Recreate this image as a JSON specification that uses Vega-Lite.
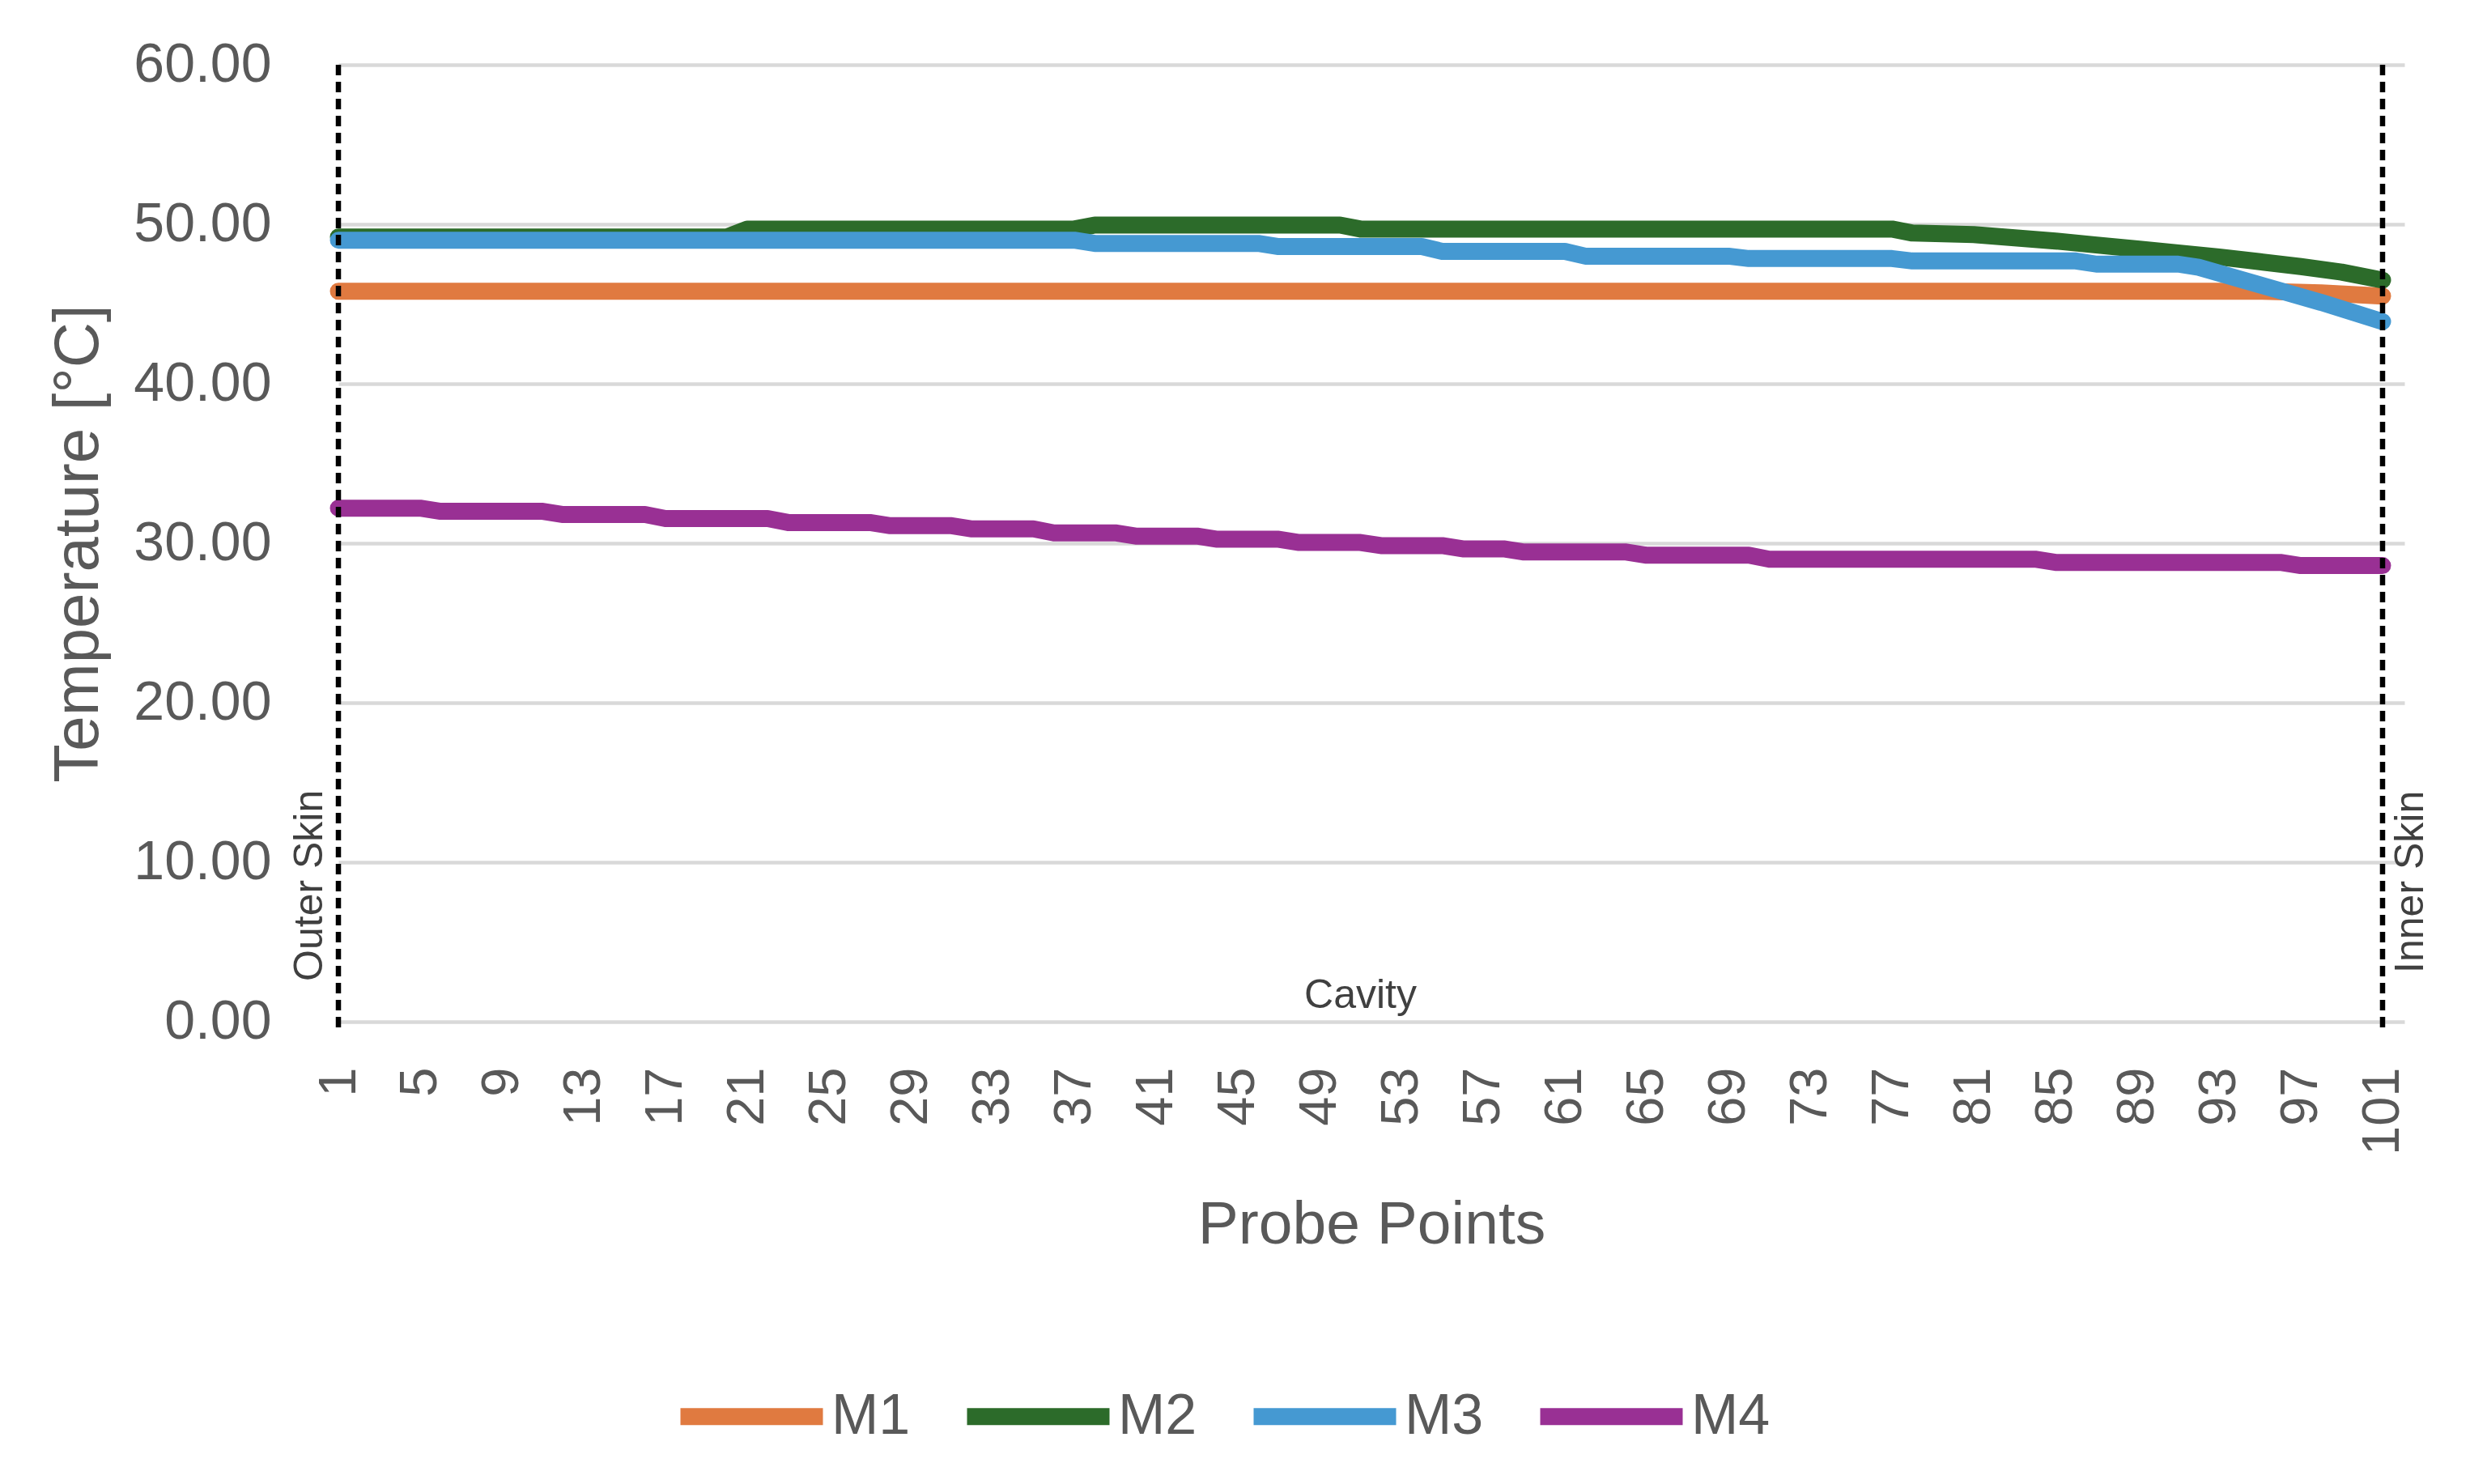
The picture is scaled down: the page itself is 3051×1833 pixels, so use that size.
{
  "$schema": "https://vega.github.io/schema/vega-lite/v6.json",
  "autosize": {"type": "none"},
  "padding": {"left": 418, "top": 80, "right": 81, "bottom": 571},
  "width": 2552,
  "height": 1182,
  "background": "white",
  "config": {
    "view": {"stroke": null},
    "font": "Liberation Sans"
  },
  "datasets": {
    "series": [
      {"s": "M1", "idx": 1, "t": 45.8},
      {"s": "M1", "idx": 95, "t": 45.8},
      {"s": "M1", "idx": 98, "t": 45.7},
      {"s": "M1", "idx": 101, "t": 45.5},

      {"s": "M2", "idx": 1, "t": 49.2},
      {"s": "M2", "idx": 20, "t": 49.2},
      {"s": "M2", "idx": 21, "t": 49.7},
      {"s": "M2", "idx": 37, "t": 49.7},
      {"s": "M2", "idx": 38, "t": 49.95},
      {"s": "M2", "idx": 50, "t": 49.95},
      {"s": "M2", "idx": 51, "t": 49.7},
      {"s": "M2", "idx": 77, "t": 49.7},
      {"s": "M2", "idx": 78, "t": 49.45},
      {"s": "M2", "idx": 81, "t": 49.35},
      {"s": "M2", "idx": 83, "t": 49.15},
      {"s": "M2", "idx": 85, "t": 48.95},
      {"s": "M2", "idx": 87, "t": 48.7},
      {"s": "M2", "idx": 89, "t": 48.45},
      {"s": "M2", "idx": 91, "t": 48.2},
      {"s": "M2", "idx": 93, "t": 47.95},
      {"s": "M2", "idx": 95, "t": 47.65},
      {"s": "M2", "idx": 97, "t": 47.35},
      {"s": "M2", "idx": 99, "t": 47.0},
      {"s": "M2", "idx": 101, "t": 46.5},

      {"s": "M3", "idx": 1, "t": 49.0},
      {"s": "M3", "idx": 37, "t": 49.0},
      {"s": "M3", "idx": 38, "t": 48.8},
      {"s": "M3", "idx": 46, "t": 48.8},
      {"s": "M3", "idx": 47, "t": 48.6},
      {"s": "M3", "idx": 54, "t": 48.6},
      {"s": "M3", "idx": 55, "t": 48.3},
      {"s": "M3", "idx": 61, "t": 48.3},
      {"s": "M3", "idx": 62, "t": 48.0},
      {"s": "M3", "idx": 69, "t": 48.0},
      {"s": "M3", "idx": 70, "t": 47.85},
      {"s": "M3", "idx": 77, "t": 47.85},
      {"s": "M3", "idx": 78, "t": 47.7},
      {"s": "M3", "idx": 86, "t": 47.7},
      {"s": "M3", "idx": 87, "t": 47.5},
      {"s": "M3", "idx": 91, "t": 47.5},
      {"s": "M3", "idx": 92, "t": 47.3},
      {"s": "M3", "idx": 95, "t": 46.2},
      {"s": "M3", "idx": 98, "t": 45.1},
      {"s": "M3", "idx": 101, "t": 43.9},

      {"s": "M4", "idx": 1, "t": 32.2},
      {"s": "M4", "idx": 5, "t": 32.2},
      {"s": "M4", "idx": 6, "t": 32.0},
      {"s": "M4", "idx": 11, "t": 32.0},
      {"s": "M4", "idx": 12, "t": 31.8},
      {"s": "M4", "idx": 16, "t": 31.8},
      {"s": "M4", "idx": 17, "t": 31.55},
      {"s": "M4", "idx": 22, "t": 31.55},
      {"s": "M4", "idx": 23, "t": 31.3},
      {"s": "M4", "idx": 27, "t": 31.3},
      {"s": "M4", "idx": 28, "t": 31.1},
      {"s": "M4", "idx": 31, "t": 31.1},
      {"s": "M4", "idx": 32, "t": 30.9},
      {"s": "M4", "idx": 35, "t": 30.9},
      {"s": "M4", "idx": 36, "t": 30.65},
      {"s": "M4", "idx": 39, "t": 30.65},
      {"s": "M4", "idx": 40, "t": 30.45},
      {"s": "M4", "idx": 43, "t": 30.45},
      {"s": "M4", "idx": 44, "t": 30.25},
      {"s": "M4", "idx": 47, "t": 30.25},
      {"s": "M4", "idx": 48, "t": 30.05},
      {"s": "M4", "idx": 51, "t": 30.05},
      {"s": "M4", "idx": 52, "t": 29.85},
      {"s": "M4", "idx": 55, "t": 29.85},
      {"s": "M4", "idx": 56, "t": 29.65},
      {"s": "M4", "idx": 58, "t": 29.65},
      {"s": "M4", "idx": 59, "t": 29.45},
      {"s": "M4", "idx": 64, "t": 29.45},
      {"s": "M4", "idx": 65, "t": 29.25},
      {"s": "M4", "idx": 70, "t": 29.25},
      {"s": "M4", "idx": 71, "t": 29.0},
      {"s": "M4", "idx": 84, "t": 29.0},
      {"s": "M4", "idx": 85, "t": 28.8},
      {"s": "M4", "idx": 96, "t": 28.8},
      {"s": "M4", "idx": 97, "t": 28.6},
      {"s": "M4", "idx": 101, "t": 28.6}
    ],
    "walls": [
      {"idx": 1, "top": 60, "bottom": -0.76},
      {"idx": 101, "top": 60, "bottom": -0.76}
    ],
    "notes": [
      {"note": "Outer Skin", "idx": 1, "t": 2.54, "side": "left"},
      {"note": "Inner Skin", "idx": 101, "t": 3.05, "side": "right"},
      {"note": "Cavity", "idx": 51, "t": 0.86, "side": "mid"}
    ]
  },
  "layer": [
    {
      "data": {"name": "series"},
      "mark": {"type": "line", "strokeWidth": 21, "strokeCap": "round", "strokeJoin": "round"},
      "encoding": {
        "x": {
          "field": "idx",
          "type": "quantitative",
          "scale": {"domain": [1, 102.07], "nice": false, "zero": false},
          "axis": {
            "title": "Probe Points",
            "values": [1, 5, 9, 13, 17, 21, 25, 29, 33, 37, 41, 45, 49, 53, 57, 61, 65, 69, 73, 77, 81, 85, 89, 93, 97, 101],
            "format": "d",
            "grid": false,
            "domain": false,
            "ticks": false,
            "labelAngle": -90,
            "labelFontSize": 65,
            "labelColor": "#595959",
            "labelPadding": 56,
            "labelFlush": false,
            "labelOverlap": false,
            "titleFontSize": 75,
            "titleFontWeight": "normal",
            "titleColor": "#595959",
            "titlePadding": 50
          }
        },
        "y": {
          "field": "t",
          "type": "quantitative",
          "scale": {"domain": [0, 60], "nice": false},
          "axis": {
            "title": "Temperature [°C]",
            "values": [0, 10, 20, 30, 40, 50, 60],
            "format": ".2f",
            "domain": false,
            "ticks": false,
            "gridColor": "#D9D9D9",
            "gridWidth": 4.5,
            "labelFontSize": 68,
            "labelColor": "#595959",
            "labelPadding": 83,
            "titleFontSize": 78,
            "titleFontWeight": "normal",
            "titleColor": "#595959",
            "titlePadding": 82
          }
        },
        "color": {
          "field": "s",
          "type": "nominal",
          "scale": {"domain": ["M1", "M2", "M3", "M4"], "range": ["#E07A40", "#2C6B2A", "#4599D2", "#993094"]},
          "legend": {
            "title": null,
            "orient": "none",
            "direction": "horizontal",
            "legendX": 412,
            "legendY": 1571,
            "symbolType": "stroke",
            "symbolSize": 30976,
            "symbolStrokeWidth": 21,
            "labelFontSize": 70,
            "labelColor": "#595959",
            "labelOffset": 0,
            "columnPadding": 27
          }
        }
      }
    },
    {
      "data": {"name": "walls"},
      "mark": {"type": "rule", "color": "black", "strokeWidth": 6.5, "strokeDash": [13, 8]},
      "encoding": {
        "x": {"field": "idx", "type": "quantitative"},
        "y": {"field": "top", "type": "quantitative"},
        "y2": {"field": "bottom"}
      }
    },
    {
      "data": {"name": "notes"},
      "transform": [{"filter": "datum.side === 'left'"}],
      "mark": {"type": "text", "angle": 270, "align": "left", "baseline": "alphabetic", "dy": -20, "fontSize": 50, "color": "#404040"},
      "encoding": {
        "x": {"field": "idx", "type": "quantitative"},
        "y": {"field": "t", "type": "quantitative"},
        "text": {"field": "note"}
      }
    },
    {
      "data": {"name": "notes"},
      "transform": [{"filter": "datum.side === 'right'"}],
      "mark": {"type": "text", "angle": 270, "align": "left", "baseline": "alphabetic", "dy": 50, "fontSize": 50, "color": "#404040"},
      "encoding": {
        "x": {"field": "idx", "type": "quantitative"},
        "y": {"field": "t", "type": "quantitative"},
        "text": {"field": "note"}
      }
    },
    {
      "data": {"name": "notes"},
      "transform": [{"filter": "datum.side === 'mid'"}],
      "mark": {"type": "text", "align": "center", "baseline": "alphabetic", "fontSize": 50, "color": "#404040"},
      "encoding": {
        "x": {"field": "idx", "type": "quantitative"},
        "y": {"field": "t", "type": "quantitative"},
        "text": {"field": "note"}
      }
    }
  ]
}
